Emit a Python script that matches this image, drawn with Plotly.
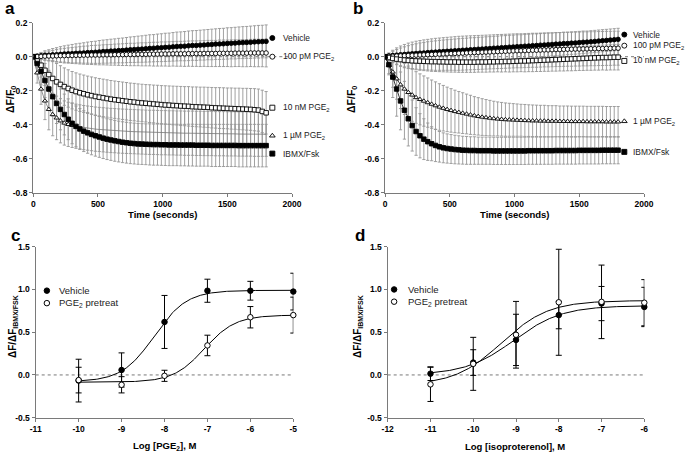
import plotly.graph_objects as go
import numpy as np

# ---------------- data ----------------
time_s = list(range(0, 1801, 30))

# Panel a
a_vehicle = [0, 0.003, 0.005, 0.008, 0.009, 0.011, 0.012, 0.014, 0.016, 0.017,
             0.018, 0.02, 0.021, 0.022, 0.024, 0.025, 0.026, 0.028, 0.03, 0.031,
             0.033, 0.034, 0.036, 0.037, 0.039, 0.041, 0.042, 0.044, 0.045, 0.047,
             0.049, 0.05, 0.052, 0.053, 0.055, 0.056, 0.058, 0.06, 0.061, 0.062,
             0.064, 0.066, 0.066, 0.068, 0.069, 0.071, 0.072, 0.074, 0.075, 0.076,
             0.078, 0.079, 0.08, 0.082, 0.083, 0.084, 0.085, 0.087, 0.088, 0.089,
             0.09]
a_vehicle_err = [0, 0.012, 0.02, 0.027, 0.032, 0.037, 0.041, 0.045, 0.048, 0.051,
                 0.054, 0.056, 0.058, 0.06, 0.062, 0.064, 0.065, 0.067, 0.068, 0.069,
                 0.07, 0.071, 0.072, 0.073, 0.074, 0.075, 0.076, 0.077, 0.078, 0.079,
                 0.08, 0.08, 0.081, 0.082, 0.083, 0.083, 0.084, 0.085, 0.085, 0.086,
                 0.087, 0.087, 0.088, 0.088, 0.089, 0.089, 0.09, 0.09, 0.091, 0.091,
                 0.092, 0.092, 0.093, 0.093, 0.094, 0.094, 0.095, 0.095, 0.096, 0.096,
                 0.097]
a_100pM = [0, 0.001, 0.002, 0.003, 0.004, 0.004, 0.005, 0.006, 0.006, 0.007,
           0.007, 0.008, 0.008, 0.009, 0.009, 0.01, 0.01, 0.01, 0.011, 0.011,
           0.011, 0.012, 0.012, 0.012, 0.013, 0.013, 0.013, 0.014, 0.014, 0.014,
           0.015, 0.015, 0.015, 0.016, 0.016, 0.016, 0.017, 0.017, 0.017, 0.017,
           0.018, 0.018, 0.018, 0.018, 0.019, 0.019, 0.019, 0.019, 0.02, 0.02,
           0.02, 0.02, 0.021, 0.021, 0.021, 0.021, 0.022, 0.022, 0.022, 0.022,
           0.022]
a_100pM_err = [0, 0.01, 0.018, 0.024, 0.029, 0.033, 0.037, 0.04, 0.043, 0.045,
               0.047, 0.049, 0.051, 0.053, 0.054, 0.056, 0.057, 0.058, 0.059, 0.06,
               0.061, 0.062, 0.063, 0.064, 0.065, 0.066, 0.066, 0.067, 0.068, 0.068,
               0.069, 0.07, 0.07, 0.071, 0.071, 0.072, 0.072, 0.073, 0.073, 0.074,
               0.074, 0.075, 0.075, 0.076, 0.076, 0.077, 0.077, 0.077, 0.078, 0.078,
               0.078, 0.079, 0.079, 0.079, 0.08, 0.08, 0.08, 0.081, 0.081, 0.081,
               0.082]
a_10nM = [0, -0.025, -0.05, -0.08, -0.105, -0.128, -0.148, -0.163, -0.176, -0.187,
          -0.197, -0.205, -0.212, -0.218, -0.224, -0.229, -0.234, -0.238, -0.242, -0.246,
          -0.25, -0.253, -0.256, -0.259, -0.262, -0.265, -0.267, -0.27, -0.272, -0.274,
          -0.276, -0.278, -0.28, -0.282, -0.284, -0.285, -0.287, -0.288, -0.29, -0.291,
          -0.292, -0.294, -0.295, -0.296, -0.297, -0.298, -0.3, -0.301, -0.302, -0.303,
          -0.304, -0.305, -0.306, -0.307, -0.308, -0.309, -0.31, -0.312, -0.314, -0.322,
          -0.33]
a_10nM_err = [0, 0.04, 0.07, 0.09, 0.1, 0.105, 0.108, 0.11, 0.11, 0.11,
              0.11, 0.11, 0.11, 0.11, 0.11, 0.11, 0.11, 0.11, 0.11, 0.11,
              0.11, 0.11, 0.11, 0.11, 0.11, 0.11, 0.11, 0.11, 0.11, 0.11,
              0.111, 0.111, 0.112, 0.112, 0.113, 0.113, 0.114, 0.114, 0.115, 0.115,
              0.116, 0.116, 0.117, 0.117, 0.118, 0.118, 0.119, 0.119, 0.12, 0.12,
              0.12, 0.121, 0.121, 0.122, 0.122, 0.123, 0.123, 0.124, 0.124, 0.125,
              0.125]
a_1uM = [0, -0.095, -0.19, -0.26, -0.31, -0.34, -0.36, -0.377, -0.39, -0.398,
         -0.404, -0.409, -0.413, -0.417, -0.42, -0.423, -0.426, -0.428, -0.43, -0.432,
         -0.434, -0.435, -0.437, -0.438, -0.439, -0.44, -0.441, -0.442, -0.443, -0.444,
         -0.445, -0.445, -0.446, -0.447, -0.447, -0.448, -0.448, -0.449, -0.449, -0.45,
         -0.45, -0.45, -0.451, -0.451, -0.452, -0.452, -0.452, -0.453, -0.453, -0.453,
         -0.454, -0.454, -0.454, -0.455, -0.455, -0.455, -0.455, -0.456, -0.456, -0.456,
         -0.456]
a_1uM_err = [0, 0.06, 0.09, 0.11, 0.12, 0.125, 0.128, 0.13, 0.13, 0.13,
             0.13, 0.13, 0.13, 0.13, 0.13, 0.13, 0.13, 0.13, 0.13, 0.13,
             0.13, 0.13, 0.13, 0.13, 0.13, 0.13, 0.13, 0.13, 0.13, 0.13,
             0.13, 0.13, 0.13, 0.13, 0.13, 0.13, 0.13, 0.13, 0.13, 0.13,
             0.13, 0.13, 0.13, 0.13, 0.13, 0.13, 0.13, 0.13, 0.13, 0.13,
             0.13, 0.13, 0.13, 0.13, 0.13, 0.13, 0.13, 0.13, 0.13, 0.13,
             0.13]
a_IBMX = [0, -0.04, -0.086, -0.14, -0.19, -0.235, -0.275, -0.31, -0.34, -0.368,
          -0.392, -0.41, -0.425, -0.438, -0.448, -0.457, -0.465, -0.472, -0.479, -0.485,
          -0.49, -0.495, -0.499, -0.503, -0.506, -0.509, -0.511, -0.513, -0.514, -0.515,
          -0.516, -0.517, -0.517, -0.518, -0.518, -0.519, -0.519, -0.519, -0.52, -0.52,
          -0.52, -0.52, -0.521, -0.521, -0.521, -0.521, -0.522, -0.522, -0.522, -0.522,
          -0.522, -0.522, -0.522, -0.523, -0.523, -0.523, -0.523, -0.523, -0.523, -0.523,
          -0.523]
a_IBMX_err = [0, 0.05, 0.08, 0.1, 0.11, 0.115, 0.118, 0.12, 0.12, 0.12,
              0.12, 0.12, 0.12, 0.12, 0.12, 0.12, 0.12, 0.12, 0.12, 0.12,
              0.12, 0.12, 0.12, 0.12, 0.12, 0.12, 0.12, 0.12, 0.12, 0.12,
              0.121, 0.121, 0.121, 0.121, 0.122, 0.122, 0.122, 0.122, 0.122, 0.122,
              0.123, 0.123, 0.123, 0.123, 0.123, 0.123, 0.124, 0.124, 0.124, 0.124,
              0.124, 0.124, 0.124, 0.125, 0.125, 0.125, 0.125, 0.125, 0.125, 0.125,
              0.125]

# Panel b
b_vehicle = [0, 0.004, 0.007, 0.009, 0.011, 0.013, 0.015, 0.017, 0.019, 0.021,
             0.022, 0.024, 0.026, 0.027, 0.029, 0.03, 0.032, 0.033, 0.035, 0.036,
             0.038, 0.039, 0.041, 0.042, 0.044, 0.045, 0.047, 0.048, 0.05, 0.051,
             0.053, 0.054, 0.056, 0.057, 0.059, 0.06, 0.062, 0.063, 0.065, 0.066,
             0.068, 0.069, 0.071, 0.072, 0.074, 0.075, 0.077, 0.078, 0.08, 0.081,
             0.083, 0.085, 0.086, 0.088, 0.09, 0.092, 0.094, 0.096, 0.098, 0.1,
             0.102]
b_vehicle_err = [0, 0.015, 0.025, 0.033, 0.04, 0.045, 0.05, 0.054, 0.057, 0.06,
                 0.062, 0.064, 0.065, 0.066, 0.067, 0.068, 0.068, 0.069, 0.069, 0.07,
                 0.07, 0.07, 0.07, 0.07, 0.07, 0.07, 0.07, 0.07, 0.07, 0.07,
                 0.07, 0.07, 0.07, 0.07, 0.07, 0.069, 0.069, 0.069, 0.069, 0.068,
                 0.068, 0.068, 0.068, 0.067, 0.067, 0.067, 0.067, 0.066, 0.066, 0.066,
                 0.066, 0.066, 0.065, 0.065, 0.065, 0.065, 0.065, 0.065, 0.065, 0.065,
                 0.065]
b_100pM = [0, 0.002, 0.003, 0.004, 0.005, 0.006, 0.007, 0.008, 0.009, 0.01,
           0.011, 0.012, 0.013, 0.014, 0.015, 0.016, 0.017, 0.018, 0.019, 0.02,
           0.021, 0.022, 0.023, 0.024, 0.025, 0.026, 0.027, 0.028, 0.029, 0.03,
           0.031, 0.032, 0.033, 0.034, 0.035, 0.035, 0.036, 0.037, 0.038, 0.038,
           0.039, 0.04, 0.04, 0.041, 0.042, 0.042, 0.043, 0.044, 0.044, 0.045,
           0.045, 0.046, 0.046, 0.047, 0.047, 0.048, 0.048, 0.049, 0.049, 0.05,
           0.05]
b_100pM_err = [0, 0.02, 0.035, 0.048, 0.058, 0.066, 0.073, 0.078, 0.082, 0.085,
               0.088, 0.09, 0.092, 0.094, 0.095, 0.096, 0.097, 0.098, 0.099, 0.1,
               0.1, 0.1, 0.1, 0.1, 0.1, 0.1, 0.1, 0.1, 0.1, 0.1,
               0.1, 0.1, 0.1, 0.1, 0.1, 0.1, 0.1, 0.1, 0.1, 0.1,
               0.1, 0.1, 0.1, 0.1, 0.1, 0.1, 0.1, 0.1, 0.1, 0.1,
               0.1, 0.1, 0.1, 0.1, 0.1, 0.1, 0.1, 0.1, 0.1, 0.1,
               0.1]
b_10nM = [0, -0.005, -0.01, -0.014, -0.017, -0.02, -0.022, -0.024, -0.025, -0.026,
          -0.027, -0.028, -0.029, -0.029, -0.03, -0.03, -0.031, -0.031, -0.031, -0.032,
          -0.032, -0.032, -0.032, -0.032, -0.031, -0.031, -0.031, -0.03, -0.03, -0.029,
          -0.029, -0.028, -0.028, -0.027, -0.026, -0.025, -0.025, -0.024, -0.023, -0.022,
          -0.021, -0.02, -0.019, -0.018, -0.017, -0.016, -0.015, -0.014, -0.013, -0.012,
          -0.011, -0.01, -0.009, -0.008, -0.007, -0.006, -0.005, -0.005, -0.004, -0.003,
          -0.003]
b_10nM_err = [0, 0.015, 0.025, 0.033, 0.04, 0.045, 0.048, 0.05, 0.052, 0.054,
              0.055, 0.056, 0.057, 0.058, 0.058, 0.059, 0.059, 0.06, 0.06, 0.06,
              0.06, 0.06, 0.06, 0.06, 0.06, 0.06, 0.06, 0.06, 0.06, 0.06,
              0.061, 0.061, 0.062, 0.062, 0.063, 0.063, 0.064, 0.064, 0.065, 0.065,
              0.066, 0.066, 0.067, 0.067, 0.068, 0.068, 0.069, 0.069, 0.07, 0.07,
              0.07, 0.071, 0.071, 0.072, 0.072, 0.073, 0.073, 0.074, 0.074, 0.075,
              0.075]
b_1uM = [0, -0.05, -0.09, -0.13, -0.165, -0.19, -0.21, -0.225, -0.24, -0.251,
         -0.261, -0.27, -0.279, -0.288, -0.296, -0.303, -0.31, -0.316, -0.322, -0.327,
         -0.332, -0.337, -0.342, -0.347, -0.351, -0.355, -0.358, -0.361, -0.364, -0.366,
         -0.368, -0.37, -0.371, -0.372, -0.373, -0.374, -0.375, -0.376, -0.377, -0.377,
         -0.378, -0.378, -0.379, -0.379, -0.379, -0.38, -0.38, -0.38, -0.381, -0.381,
         -0.381, -0.381, -0.382, -0.382, -0.382, -0.382, -0.382, -0.383, -0.383, -0.383,
         -0.383]
b_1uM_err = [0, 0.05, 0.09, 0.12, 0.14, 0.15, 0.155, 0.155, 0.152, 0.15,
             0.148, 0.145, 0.142, 0.14, 0.137, 0.134, 0.131, 0.128, 0.125, 0.122,
             0.12, 0.117, 0.115, 0.112, 0.11, 0.108, 0.106, 0.104, 0.102, 0.1,
             0.099, 0.098, 0.097, 0.096, 0.095, 0.094, 0.094, 0.093, 0.093, 0.092,
             0.092, 0.092, 0.091, 0.091, 0.091, 0.09, 0.09, 0.09, 0.09, 0.09,
             0.09, 0.09, 0.09, 0.09, 0.09, 0.09, 0.09, 0.09, 0.09, 0.09,
             0.09]
b_IBMX = [0, -0.047, -0.12, -0.19, -0.26, -0.315, -0.365, -0.405, -0.44, -0.465,
          -0.485, -0.5, -0.512, -0.522, -0.53, -0.536, -0.54, -0.543, -0.546, -0.548,
          -0.55, -0.551, -0.552, -0.552, -0.553, -0.553, -0.553, -0.553, -0.554, -0.554,
          -0.554, -0.554, -0.554, -0.554, -0.554, -0.554, -0.554, -0.553, -0.553, -0.553,
          -0.553, -0.553, -0.553, -0.553, -0.552, -0.552, -0.552, -0.552, -0.552, -0.552,
          -0.551, -0.551, -0.551, -0.551, -0.551, -0.551, -0.55, -0.55, -0.55, -0.55,
          -0.55]
b_IBMX_err = [0, 0.06, 0.12, 0.16, 0.17, 0.17, 0.16, 0.15, 0.14, 0.13,
              0.12, 0.11, 0.1, 0.095, 0.09, 0.088, 0.086, 0.085, 0.084, 0.083,
              0.082, 0.082, 0.081, 0.081, 0.08, 0.08, 0.08, 0.08, 0.08, 0.08,
              0.08, 0.08, 0.08, 0.08, 0.08, 0.08, 0.08, 0.08, 0.08, 0.08,
              0.08, 0.08, 0.08, 0.08, 0.08, 0.08, 0.08, 0.08, 0.08, 0.08,
              0.08, 0.08, 0.08, 0.08, 0.08, 0.08, 0.08, 0.08, 0.08, 0.08,
              0.08]

series_names = ["Vehicle", "100 pM PGE<sub>2</sub>", "10 nM PGE<sub>2</sub>",
                "1 µM PGE<sub>2</sub>", "IBMX/Fsk"]
a_label_y = [0.11, 0.0, -0.30, -0.465, -0.57]
b_label_y = [0.13, 0.065, -0.025, -0.38, -0.56]

# Panel c
c_logconc = [-10, -9, -8, -7, -6, -5]
c_vehicle = [-0.066, 0.058, 0.62, 0.985, 0.985, 0.975]
c_vehicle_err = [0.25, 0.2, 0.31, 0.135, 0.11, 0.215]
c_pge2 = [-0.06, -0.115, -0.01, 0.345, 0.675, 0.70]
c_pge2_err = [0.15, 0.095, 0.065, 0.12, 0.125, 0.21]
c_fit_vehicle = [-0.08, 0.99, -8.24, 1.15]   # bottom, top, logEC50, hill
c_fit_pge2 = [-0.085, 0.70, -7.07, 1.2]

# Panel d
d_logconc = [-11, -10, -9, -8, -7, -6]
d_vehicle = [0.015, 0.145, 0.41, 0.70, 0.835, 0.795]
d_vehicle_err = [0.08, 0.15, 0.3, 0.16, 0.2, 0.23]
d_pge2 = [-0.11, 0.13, 0.47, 0.85, 0.855, 0.845]
d_pge2_err = [0.2, 0.31, 0.39, 0.62, 0.43, 0.27]
d_fit_vehicle = [0.0, 0.81, -9.05, 0.77]
d_fit_pge2 = [-0.12, 0.87, -9.34, 0.79]

legend_names = ["Vehicle", "PGE<sub>2</sub> pretreat"]

# ---------------- figure ----------------
W, H = 685, 453
FONT = "Liberation Sans, Arial, sans-serif"
GREY = "#969696"
AX = "#7a7a7a"

def px_x(p):
    return p / W

def px_y(p):
    return 1 - p / H

fig = go.Figure()

def add_ts(xa, ya, y, err):
    fig.add_trace(go.Scatter(
        x=time_s, y=y, mode="markers", xaxis=xa, yaxis=ya,
        marker=dict(size=1, color="rgba(0,0,0,0)"),
        error_y=dict(type="data", array=err, color=GREY, thickness=0.9, width=1.6),
        showlegend=False, hoverinfo="skip"))

def add_ts_top(xa, ya, y, sym, fill, marker_n=None, line_color="black"):
    if marker_n is None:
        fig.add_trace(go.Scatter(
            x=time_s, y=y, mode="lines+markers", xaxis=xa, yaxis=ya,
            line=dict(color=line_color, width=0.8),
            marker=dict(symbol=sym, size=4.5, color=fill,
                        line=dict(color="black", width=0.9)),
            showlegend=False, hoverinfo="skip"))
    else:
        fig.add_trace(go.Scatter(
            x=time_s, y=y, mode="lines", xaxis=xa, yaxis=ya,
            line=dict(color=line_color, width=0.8),
            showlegend=False, hoverinfo="skip"))
        fig.add_trace(go.Scatter(
            x=time_s[:marker_n], y=y[:marker_n], mode="markers", xaxis=xa, yaxis=ya,
            marker=dict(symbol=sym, size=4.5, color=fill,
                        line=dict(color="black", width=0.9)),
            showlegend=False, hoverinfo="skip"))

symbols = ["circle", "circle", "square", "triangle-up", "square"]
fills = ["black", "white", "white", "white", "black"]

a_series = [(a_vehicle, a_vehicle_err), (a_100pM, a_100pM_err), (a_10nM, a_10nM_err),
            (a_1uM, a_1uM_err), (a_IBMX, a_IBMX_err)]
b_series = [(b_vehicle, b_vehicle_err), (b_100pM, b_100pM_err), (b_10nM, b_10nM_err),
            (b_1uM, b_1uM_err), (b_IBMX, b_IBMX_err)]

for xa, ya, ser in [("x", "y", a_series), ("x2", "y2", b_series)]:
    for (y, e) in ser:
        add_ts(xa, ya, y, e)

for i, ((y, e), s, f) in enumerate(zip(a_series, symbols, fills)):
    if i == 3:
        add_ts_top("x", "y", y, s, f, marker_n=11, line_color="#777777")
    else:
        add_ts_top("x", "y", y, s, f)
for (y, e), s, f in zip(b_series, symbols, fills):
    add_ts_top("x2", "y2", y, s, f)

# end-of-line labels
for xa, ya, ys, tx in [("x", "y", a_label_y, 1915), ("x2", "y2", b_label_y, 1900)]:
    for ly, s, f, name in zip(ys, symbols, fills, series_names):
        fig.add_trace(go.Scatter(
            x=[1848], y=[ly], mode="markers", xaxis=xa, yaxis=ya, cliponaxis=False,
            marker=dict(symbol=s, size=5, color=f, line=dict(color="black", width=0.9)),
            showlegend=False, hoverinfo="skip"))
        fig.add_annotation(x=tx, y=ly, xref=xa, yref=ya, text=name, showarrow=False,
                           xanchor="left", yanchor="middle",
                           font=dict(family=FONT, size=8.4, color="#222"))

# dose-response panels
def four_pl(x, p):
    b, t, ec, h = p
    return b + (t - b) / (1 + 10 ** (h * (ec - x)))

for xa, ya, conc, sets in [
    ("x3", "y3", c_logconc, [(c_vehicle, c_vehicle_err, c_fit_vehicle, "black"),
                             (c_pge2, c_pge2_err, c_fit_pge2, "white")]),
    ("x4", "y4", d_logconc, [(d_vehicle, d_vehicle_err, d_fit_vehicle, "black"),
                             (d_pge2, d_pge2_err, d_fit_pge2, "white")])]:
    xs = np.linspace(min(conc), max(conc), 300)
    for vals, err, fit, fill in sets:
        fig.add_trace(go.Scatter(
            x=xs, y=four_pl(xs, fit), mode="lines", xaxis=xa, yaxis=ya,
            line=dict(color="black", width=1), showlegend=False, hoverinfo="skip"))
    for vals, err, fit, fill in sets:
        fig.add_trace(go.Scatter(
            x=conc, y=vals, mode="markers", xaxis=xa, yaxis=ya, cliponaxis=False,
            marker=dict(symbol="circle", size=5.5, color=fill, line=dict(color="black", width=1)),
            error_y=dict(type="data", array=err, color="black", thickness=1, width=3),
            showlegend=False, hoverinfo="skip"))

# legends for c and d
for xa, ya, mx, tx, ys in [("x3", "y3", -10.74, -10.51, [0.986, 0.84]),
                           ("x4", "y4", -11.85, -11.58, [1.0, 0.857])]:
    for ly, fill, name in zip(ys, ["black", "white"], legend_names):
        fig.add_trace(go.Scatter(
            x=[mx], y=[ly], mode="markers", xaxis=xa, yaxis=ya,
            marker=dict(symbol="circle", size=5.5, color=fill, line=dict(color="black", width=1)),
            showlegend=False, hoverinfo="skip"))
        fig.add_annotation(x=tx, y=ly, xref=xa, yref=ya, text=name, showarrow=False,
                           xanchor="left", yanchor="middle",
                           font=dict(family=FONT, size=9.5, color="#222"))

# dotted zero lines
for xa, ya, x0, x1 in [("x", "y", 0, 2000), ("x2", "y2", 0, 2000),
                       ("x3", "y3", -11, -5), ("x4", "y4", -12, -6)]:
    fig.add_shape(type="line", xref=xa, yref=ya, x0=x0, x1=x1, y0=0, y1=0,
                  line=dict(color="#555", width=0.8, dash="dot"), layer="below")

# axes
tick_font = dict(family=FONT, size=8.5, color="black", weight="bold")

def axis_common():
    return dict(showline=True, linecolor=AX, linewidth=1.3, ticks="outside", ticklen=3,
                tickcolor=AX, tickwidth=1, showgrid=False, zeroline=False,
                tickfont=tick_font, fixedrange=True)

ts_yticks = [-0.8, -0.6, -0.4, -0.2, 0.0, 0.2]
ts_ytext = ["-0.8", "-0.6", "-0.4", "-0.2", "0.0", "0.2"]
time_ticks = [0, 500, 1000, 1500, 2000]
dr_yticks = [-0.5, 0.0, 0.5, 1.0, 1.5]
dr_ytext = ["-0.5", "0.0", "0.5", "1.0", "1.5"]
c_xticks = [-11, -10, -9, -8, -7, -6, -5]
d_xticks = [-12, -11, -10, -9, -8, -7, -6]

ya_dom = [px_y(192.7), px_y(22.7)]
yc_dom = [px_y(417.7), px_y(246.7)]

fig.update_layout(
    width=W, height=H, margin=dict(l=0, r=0, t=0, b=0, pad=0, autoexpand=False),
    paper_bgcolor="white", plot_bgcolor="white", showlegend=False,
    font=dict(family=FONT),
    xaxis=dict(axis_common(), domain=[px_x(33.3), px_x(292)], range=[0, 2000],
               tickvals=time_ticks, ticktext=[str(v) for v in time_ticks], anchor="y"),
    yaxis=dict(axis_common(), domain=ya_dom, range=[-0.8, 0.2],
               tickvals=ts_yticks, ticktext=ts_ytext, anchor="x"),
    xaxis2=dict(axis_common(), domain=[px_x(385), px_x(644)], range=[0, 2000],
                tickvals=time_ticks, ticktext=[str(v) for v in time_ticks], anchor="y2"),
    yaxis2=dict(axis_common(), domain=ya_dom, range=[-0.8, 0.2],
                tickvals=ts_yticks, ticktext=ts_ytext, anchor="x2"),
    xaxis3=dict(axis_common(), domain=[px_x(35.7), px_x(293.3)], range=[-11, -5],
                tickvals=c_xticks, ticktext=[str(v) for v in c_xticks], anchor="y3"),
    yaxis3=dict(axis_common(), domain=yc_dom, range=[-0.5, 1.5],
                tickvals=dr_yticks, ticktext=dr_ytext, anchor="x3"),
    xaxis4=dict(axis_common(), domain=[px_x(387.7), px_x(644.3)], range=[-12, -6],
                tickvals=d_xticks, ticktext=[str(v) for v in d_xticks], anchor="y4"),
    yaxis4=dict(axis_common(), domain=yc_dom, range=[-0.5, 1.5],
                tickvals=dr_yticks, ticktext=dr_ytext, anchor="x4"),
)

title_font = dict(family=FONT, size=9.5, color="black", weight="bold")

def ann(xp, yp, text, font, angle=0):
    fig.add_annotation(x=px_x(xp), y=px_y(yp), xref="paper", yref="paper", text=text,
                       showarrow=False, xanchor="center", yanchor="middle",
                       textangle=angle, font=font)

ann(162.5, 214, "Time (seconds)", title_font)
ann(514.5, 214, "Time (seconds)", title_font)
ann(11, 100, "ΔF/F<sub>0</sub>", dict(title_font, size=10.5), -90)
ann(352, 100, "ΔF/F<sub>0</sub>", dict(title_font, size=10.5), -90)
ann(164, 446, "Log [PGE<sub>2</sub>], M", title_font)
ann(515, 446, "Log [isoproterenol], M", title_font)
ann(13, 327, "ΔF/ΔF<sub>IBMX/FSK</sub>", dict(title_font, size=10), -90)
ann(358, 327, "ΔF/ΔF<sub>IBMX/FSK</sub>", dict(title_font, size=10), -90)

letter_font = dict(family=FONT, size=17, color="black", weight="bold")
ann(10, 9, "a", letter_font)
ann(358, 9, "b", letter_font)
ann(16, 235, "c", letter_font)
ann(360, 235, "d", letter_font)

fig.write_html("out.html", config={"displayModeBar": False},
               post_script="document.body.style.margin='0';"
                           "document.body.style.overflow='hidden';")
